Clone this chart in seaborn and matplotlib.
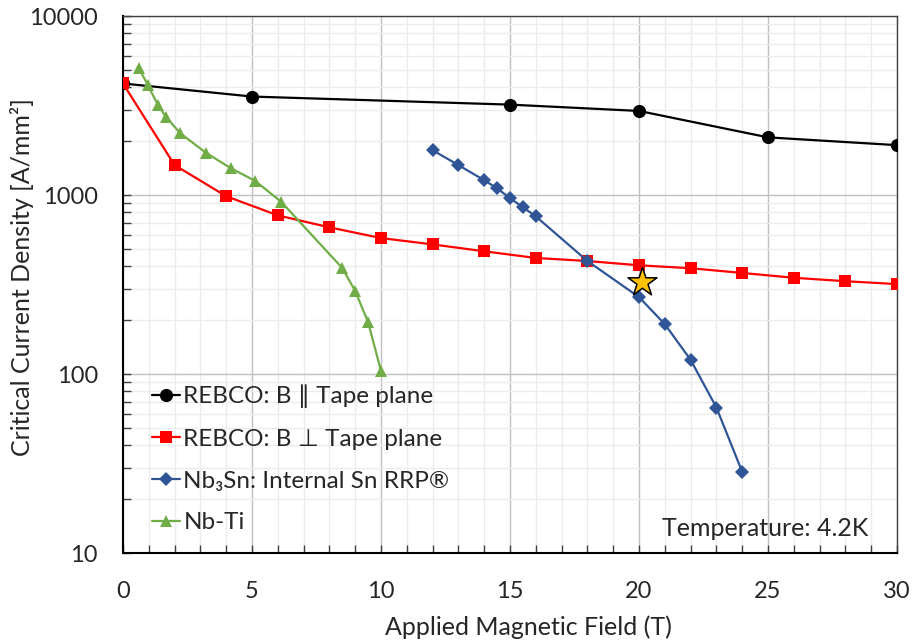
import seaborn as sns
import matplotlib.pyplot as plt
from matplotlib.ticker import MultipleLocator, LogLocator, NullFormatter, FixedLocator

# data
field_rebco_par = [0, 5, 15, 20, 25, 30]
jc_rebco_par = [4200, 3550, 3200, 2950, 2100, 1900]

field_rebco_perp = [0, 2, 4, 6, 8, 10, 12, 14, 16, 18, 20, 22, 24, 26, 28, 30]
jc_rebco_perp = [4200, 1470, 985, 770, 660, 575, 530, 485, 445, 428, 405, 390, 367, 345, 330, 318]

field_nb3sn = [12, 13, 14, 14.5, 15, 15.5, 16, 18, 20, 21, 22, 23, 24]
jc_nb3sn = [1780, 1470, 1210, 1090, 960, 855, 760, 428, 269, 190, 120, 65, 28.4]

field_nbti = [0.62, 0.97, 1.36, 1.67, 2.21, 3.22, 4.19, 5.12, 6.12, 8.5, 9.0, 9.5, 10.0]
jc_nbti = [5100, 4100, 3170, 2730, 2220, 1720, 1410, 1200, 920, 391, 291, 195, 104]

star_field = [20.1]
star_jc = [328]

labels = ["REBCO: B \u2225 Tape plane", "REBCO: B \u22a5 Tape plane",
          "Nb\u2083Sn: Internal Sn RRP\u00ae", "Nb-Ti"]

sns.set_style("white")
plt.rcParams['font.family'] = ['Lato', 'DejaVu Sans']

fig = plt.figure(figsize=(9.13, 6.42), dpi=100)
ax = fig.add_axes([0.1347, 0.1386, 0.8478, 0.8364])

sns.lineplot(x=field_rebco_par, y=jc_rebco_par, color='black', marker='o',
             markersize=9.5, markeredgewidth=0, linewidth=1.6, label=labels[0], ax=ax, zorder=3)
sns.lineplot(x=field_rebco_perp, y=jc_rebco_perp, color='#ff0000', marker='s',
             markersize=9.2, markeredgewidth=0, linewidth=1.6, label=labels[1], ax=ax, zorder=3)
sns.lineplot(x=field_nb3sn, y=jc_nb3sn, color='#2f5597', marker='D',
             markersize=7, markeredgewidth=0, linewidth=1.6, label=labels[2], ax=ax, zorder=3)
sns.lineplot(x=field_nbti, y=jc_nbti, color='#70ad47', marker='^',
             markersize=9.2, markeredgewidth=0, linewidth=1.6, label=labels[3], ax=ax, zorder=3)
sns.scatterplot(x=star_field, y=star_jc, marker='*', s=480, color='#ffc000',
                edgecolor='black', linewidth=1.1, ax=ax, zorder=5, legend=False)

ax.set_yscale('log')
ax.set_xlim(0, 30)
ax.set_ylim(10, 10000)

ax.xaxis.set_major_locator(MultipleLocator(5))
ax.xaxis.set_minor_locator(MultipleLocator(1))
ax.yaxis.set_major_locator(FixedLocator([10, 100, 1000, 10000]))
ax.yaxis.set_major_formatter(plt.FuncFormatter(lambda v, p: f"{int(v)}"))
ax.yaxis.set_minor_locator(LogLocator(base=10, subs=range(2, 10)))
ax.yaxis.set_minor_formatter(NullFormatter())

ax.grid(which='major', color='#c0c0c0', linewidth=1.0)
ax.grid(which='minor', color='#ececec', linewidth=1.0)
ax.set_axisbelow(True)

ax.tick_params(which='both', direction='in', length=6, width=1, color='#404040',
               labelsize=17, bottom=True, left=True)
ax.tick_params(axis='x', pad=20)
ax.tick_params(axis='y', pad=18)
for side in ['left', 'bottom']:
    ax.spines[side].set_color('black')
    ax.spines[side].set_linewidth(1.5)
for side in ['top', 'right']:
    ax.spines[side].set_color('#404040')
    ax.spines[side].set_linewidth(1.0)

ax.set_xlabel('Applied Magnetic Field (T)', fontsize=18)
ax.set_ylabel('Critical Current Density [A/mm\u00b2]', fontsize=18)
ax.xaxis.set_label_coords(0.524, -0.117)
ax.yaxis.set_label_coords(-0.115, 0.513)

ax.text(0.9625, 0.024, 'Temperature: 4.2K', transform=ax.transAxes,
        ha='right', va='bottom', fontsize=18)

ax.legend(loc='lower left', bbox_to_anchor=(0.009, -0.004), frameon=False, fontsize=17.5,
          handlelength=1.15, handletextpad=0.15, labelspacing=0.85)

fig.savefig('out.png', dpi=100)
